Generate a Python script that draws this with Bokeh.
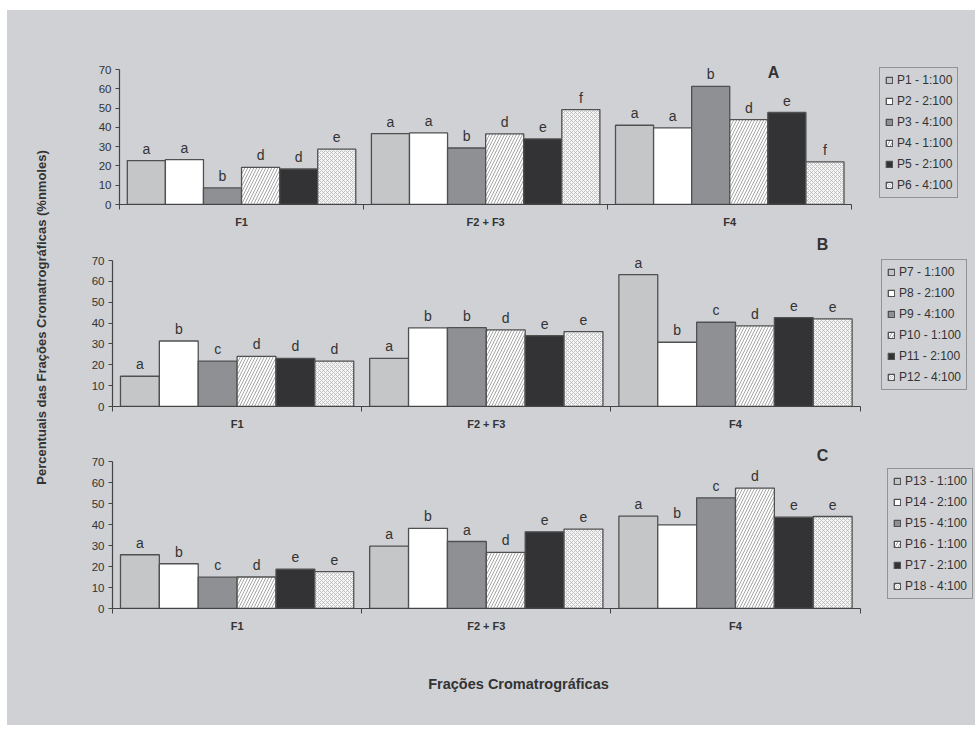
import math
from bokeh.plotting import figure
from bokeh.models import (Range1d, FixedTicker, ColumnDataSource, LabelSet, Label,
                          Legend, LegendItem, Spacer)
from bokeh.layouts import row, column
from bokeh.embed import file_html
from bokeh.resources import INLINE
from bokeh.core.properties import value

# ---------------- data ----------------
categories = ["F1", "F2 + F3", "F4"]
y_ticks = [0, 10, 20, 30, 40, 50, 60, 70]

names_A = ["P1 - 1:100", "P2 - 2:100", "P3 - 4:100", "P4 - 1:100", "P5 - 2:100", "P6 - 4:100"]
values_A = [
    [22.8, 36.8, 41.1],
    [23.3, 37.1, 39.7],
    [8.6, 29.3, 61.3],
    [19.3, 36.6, 44.0],
    [18.4, 34.0, 47.7],
    [28.7, 49.2, 22.1],
]
letters_A = [
    ["a", "a", "a"],
    ["a", "a", "a"],
    ["b", "b", "b"],
    ["d", "d", "d"],
    ["d", "e", "e"],
    ["e", "f", "f"],
]

names_B = ["P7 - 1:100", "P8 - 2:100", "P9 - 4:100", "P10 - 1:100", "P11 - 2:100", "P12 - 4:100"]
values_B = [
    [14.5, 23.1, 63.2],
    [31.4, 37.7, 30.8],
    [21.8, 37.8, 40.4],
    [24.0, 36.7, 38.7],
    [23.1, 34.0, 42.6],
    [21.8, 35.9, 42.0],
]
letters_B = [
    ["a", "a", "a"],
    ["b", "b", "b"],
    ["c", "b", "c"],
    ["d", "d", "d"],
    ["d", "e", "e"],
    ["d", "e", "e"],
]

names_C = ["P13 - 1:100", "P14 - 2:100", "P15 - 4:100", "P16 - 1:100", "P17 - 2:100", "P18 - 4:100"]
values_C = [
    [25.6, 29.7, 44.0],
    [21.3, 38.2, 39.8],
    [14.9, 31.9, 52.7],
    [15.0, 26.7, 57.3],
    [18.7, 36.5, 43.5],
    [17.6, 37.8, 43.8],
]
letters_C = [
    ["a", "a", "a"],
    ["b", "b", "b"],
    ["c", "a", "c"],
    ["d", "d", "d"],
    ["e", "e", "e"],
    ["e", "e", "e"],
]

# ---------------- style / layout ----------------
BG = "#cfd1d4"
TXT = "#333333"
AX = "#444444"
FONT = "Liberation Sans"
BAR_LINE = "#505050"

styles = [
    dict(fill_color="#c4c6c8"),
    dict(fill_color="#ffffff"),
    dict(fill_color="#8f9093"),
    dict(fill_color="#ffffff", hatch_pattern="/", hatch_color="#a5a5a5", hatch_scale=6, hatch_weight=1),
    dict(fill_color="#333336"),
    dict(fill_color="#f4f4f4", hatch_pattern="x", hatch_color="#b8b8b8", hatch_scale=4, hatch_weight=0.8),
]
BAR_W = 0.156
offsets = [(k - 2.5) * BAR_W for k in range(6)]

PAGE_X0, PAGE_Y0 = 7, 10          # where the grey area starts
CONTENT_W, CONTENT_H = 968, 715
STRIP_W = 50                      # left strip with the shared y title
PANEL_W = CONTENT_W - STRIP_W
PANEL_X0 = PAGE_X0 + STRIP_W


def make_panel(names, vals, letters, axis_x, cat_px, top_y, bottom_y, zero_y, top70_y,
               legend_left, legend_bottom, tag, tag_xy):
    left = axis_x - PANEL_X0
    frame_w = PANEL_W - left
    frame_h = zero_y - top_y
    ppu = (zero_y - top70_y) / 70.0
    x_end = -0.5 + frame_w / cat_px
    y_end = frame_h / ppu
    p = figure(width=PANEL_W, height=bottom_y - top_y,
               x_range=Range1d(-0.5, x_end), y_range=Range1d(0, y_end),
               min_border_left=left, min_border_right=0,
               min_border_top=0, min_border_bottom=bottom_y - zero_y,
               toolbar_location=None, output_backend="svg", title=None)
    p.background_fill_color = BG
    p.border_fill_color = BG
    p.outline_line_color = None
    p.xgrid.grid_line_color = None
    p.ygrid.grid_line_color = None

    xa = p.xaxis[0]
    xa.bounds = (-0.5, 2.5)
    xa.ticker = FixedTicker(ticks=[0, 1, 2], minor_ticks=[-0.5, 0.5, 1.5, 2.5])
    xa.major_label_overrides = {i: c for i, c in enumerate(categories)}
    xa.major_tick_line_color = None
    xa.major_tick_out = 0
    xa.major_tick_in = 0
    xa.minor_tick_line_color = AX
    xa.minor_tick_out = 5
    xa.minor_tick_in = 0
    xa.major_label_standoff = 6
    xa.major_label_text_font = FONT
    xa.major_label_text_font_style = "bold"
    xa.major_label_text_font_size = "11px"
    xa.major_label_text_color = TXT
    xa.axis_line_color = AX
    xa.axis_line_width = 1.2

    ya = p.yaxis[0]
    ya.bounds = (0, 70)
    ya.ticker = FixedTicker(ticks=y_ticks, minor_ticks=[])
    ya.major_tick_out = 4
    ya.major_tick_in = 0
    ya.major_tick_line_color = AX
    ya.minor_tick_line_color = None
    ya.major_label_standoff = 4
    ya.major_label_text_font = FONT
    ya.major_label_text_font_size = "11.5px"
    ya.major_label_text_color = TXT
    ya.axis_line_color = AX
    ya.axis_line_width = 1.2

    items = []
    for k in range(6):
        src = ColumnDataSource(dict(
            x=[i + offsets[k] for i in range(len(categories))],
            top=vals[k],
            lab=letters[k],
        ))
        r = p.vbar(x="x", top="top", width=BAR_W, source=src,
                   line_color=BAR_LINE, line_width=1.3, **styles[k])
        items.append(LegendItem(label=names[k], renderers=[r]))
        ls = LabelSet(x="x", y="top", text="lab", source=src,
                      text_align="center", text_baseline="alphabetic",
                      y_offset=7, text_font=value(FONT),
                      text_font_size="14px", text_color=TXT)
        p.add_layout(ls)

    legend = Legend(items=items,
                    location=(legend_left - axis_x, zero_y - legend_bottom))
    legend.border_line_color = "#555555"
    legend.border_line_width = 1.2
    legend.background_fill_color = BG
    legend.background_fill_alpha = 1.0
    legend.glyph_width = 8
    legend.glyph_height = 8
    legend.label_height = 12
    legend.spacing = 7
    legend.padding = 5
    legend.margin = 0
    legend.label_standoff = 4
    legend.label_text_font = FONT
    legend.label_text_font_size = "12px"
    legend.label_text_color = TXT
    p.add_layout(legend)

    p.add_layout(Label(x=tag_xy[0] - axis_x, y=zero_y - tag_xy[1],
                       x_units="screen", y_units="screen",
                       text=tag, text_align="center", text_baseline="middle",
                       text_font=FONT, text_font_style="bold", text_font_size="16px",
                       text_color=TXT))
    return p


# page coordinates (pixels) of axis origin, panel strip, legend and tag
pA = make_panel(names_A, values_A, letters_A, axis_x=119, cat_px=244.1,
                top_y=10, bottom_y=232, zero_y=204, top70_y=69,
                legend_left=879, legend_bottom=198, tag="A", tag_xy=(773, 72))
pB = make_panel(names_B, values_B, letters_B, axis_x=112, cat_px=249.2,
                top_y=232, bottom_y=432, zero_y=406, top70_y=260,
                legend_left=881, legend_bottom=390, tag="B", tag_xy=(822, 244))
pC = make_panel(names_C, values_C, letters_C, axis_x=112, cat_px=249.2,
                top_y=432, bottom_y=640, zero_y=608, top70_y=461,
                legend_left=887, legend_bottom=599, tag="C", tag_xy=(822, 455))

# bottom strip with the x title
pX = figure(width=PANEL_W, height=PAGE_Y0 + CONTENT_H - 640,
            x_range=Range1d(0, 1), y_range=Range1d(0, 1),
            x_axis_location=None, y_axis_location=None, min_border=0,
            toolbar_location=None, output_backend="svg", title=None)
pX.background_fill_color = BG
pX.border_fill_color = BG
pX.outline_line_color = None
pX.grid.visible = False
pX.add_layout(Label(x=518 - PANEL_X0, y=PAGE_Y0 + CONTENT_H - 683,
                    x_units="screen", y_units="screen",
                    text="Frações Cromatrográficas", text_align="center",
                    text_baseline="middle", text_font=FONT, text_font_style="bold",
                    text_font_size="14.5px", text_color=TXT))

# left strip carrying the shared y-axis title
p0 = figure(width=STRIP_W, height=CONTENT_H, x_range=Range1d(0, 1), y_range=Range1d(0, 1),
            x_axis_location=None, y_axis_location=None, min_border=0,
            toolbar_location=None, output_backend="svg", title=None)
p0.background_fill_color = BG
p0.border_fill_color = BG
p0.outline_line_color = None
p0.grid.visible = False
p0.add_layout(Label(x=41 - PAGE_X0, y=PAGE_Y0 + CONTENT_H - 317,
                    x_units="screen", y_units="screen",
                    text="Percentuais das Frações Cromatrográficas (%nmoles)",
                    angle=math.pi / 2, text_align="center", text_baseline="middle",
                    text_font=FONT, text_font_style="bold", text_font_size="13px",
                    text_color=TXT))

# each plot wrapped on its own so that the column does not align their frames
stack = column(row(pA, spacing=0), row(pB, spacing=0), row(pC, spacing=0),
               row(pX, spacing=0), spacing=0, styles={"background-color": BG})
inner = row(p0, stack, spacing=0, styles={"background-color": BG})
layout = column(Spacer(height=PAGE_Y0),
                row(Spacer(width=PAGE_X0), inner, spacing=0),
                spacing=0)

open("out.html", "w").write(file_html(layout, INLINE))
